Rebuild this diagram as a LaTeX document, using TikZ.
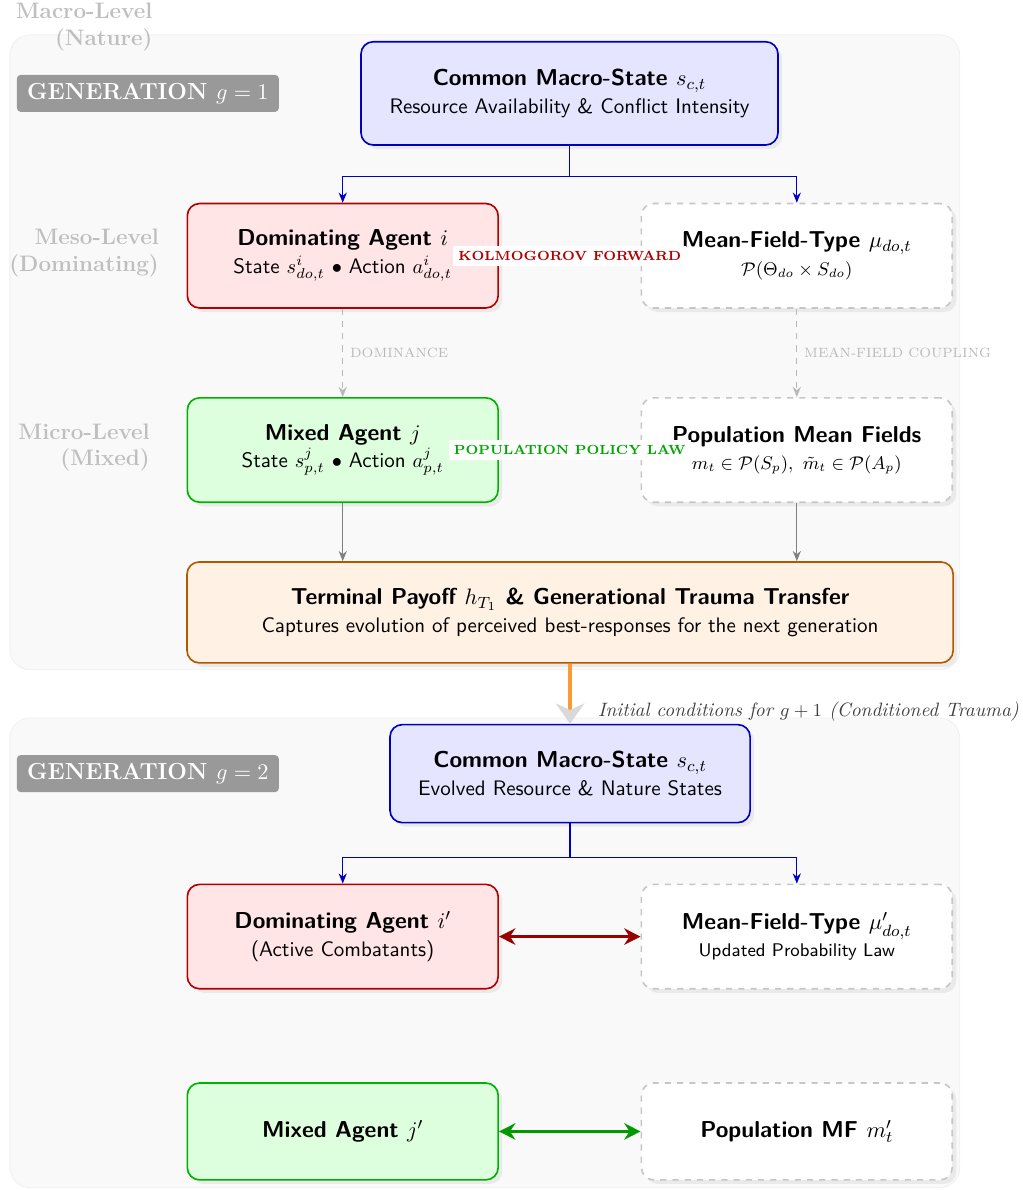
\documentclass[tikz,border=0pt]{standalone}
\usepackage{amssymb}
\usepackage{mathtools}
\usepackage{tikz}
\usetikzlibrary{arrows.meta,shadows}

\newcommand{\boxtitle}[1]{{\fontsize{11.3}{13.6}\selectfont\bfseries #1}}

\tikzset{
	box/.style={rectangle, rounded corners=6pt, line width=0.8pt, align=center,
		minimum width=5.36cm, minimum height=1.8cm, font=\sffamily\fontsize{10.3}{12.4}\selectfont,
		drop shadow={opacity=0.12, shadow xshift=2pt, shadow yshift=-2pt}},
	macrobox/.style={box, draw=blue!75!black, fill=blue!10},
	dombox/.style={box, draw=red!70!black, fill=red!10},
	mixbox/.style={box, draw=green!70!black, fill=green!13},
	mfbox/.style={box, draw=gray!45, dashed, fill=white},
	payoffbox/.style={box, draw=orange!70!black, fill=orange!10},
	genpanel/.style={draw=gray!12, fill=gray!5, rounded corners=10pt},
	genbadge/.style={fill=gray!80, rounded corners=2pt, text=white, font=\fontsize{11.4}{13}\selectfont\bfseries,
		minimum width=4.52cm, minimum height=0.64cm, inner sep=2pt},
	levellabel/.style={align=right, text=gray!50, font=\fontsize{11}{13}\selectfont\bfseries},
	branch/.style={draw=blue!75!black, line width=0.6pt, -{Stealth[length=5pt,width=4pt]}},
	coupling/.style={draw=gray!55, dashed, line width=0.6pt, -{Stealth[length=5pt,width=4pt]}},
	feed/.style={draw=gray, line width=0.6pt, -{Stealth[length=5pt,width=4pt]}},
	couplelbl/.style={font=\fontsize{6.6}{8}\selectfont, text=gray!55, right},
	lawlbl/.style={font=\fontsize{6.5}{8}\selectfont\bfseries, fill=white, inner sep=2.5pt},
	mutual/.style={line width=1.6pt, {Stealth[length=8pt,width=8pt]}-{Stealth[length=8pt,width=8pt]}}
}

\begin{document}
\begin{tikzpicture}
	\useasboundingbox (0,0) rectangle (17.64,-20.52);
	% Generation panels
	\draw[genpanel] (0.17,-0.60) rectangle (16.55,-11.55);
	\draw[genpanel] (0.17,-12.38) rectangle (16.55,-20.48);
	% Level labels
	\node[levellabel] (macrolvl) at (1.45,-0.47) {Macro-Level\\(Nature)};
	\node[levellabel] (mesolvl) at (1.45,-4.36) {Meso-Level\\(Dominating)};
	\node[levellabel] (microlvl) at (1.45,-7.72) {Micro-Level\\(Mixed)};
	% Generation 1
	\node[genbadge] (badgeA) at (2.55,-1.61) {GENERATION $g=1$};
	\node[macrobox, minimum width=7.19cm, minimum height=1.78cm] (macroA) at (9.82,-1.61)
		{\boxtitle{Common Macro-State $s_{c,t}$}\\[1pt] Resource Availability \& Conflict Intensity};
	\node[dombox] (domA) at (5.91,-4.41)
		{\boxtitle{Dominating Agent $i$}\\[1pt] State $s^{i}_{do,t}$ $\bullet$ Action $a^{i}_{do,t}$};
	\node[mfbox] (mftA) at (13.74,-4.41)
		{\boxtitle{Mean-Field-Type $\mu_{do,t}$}\\[1pt] \small $\mathcal{P}(\Theta_{do}\times S_{do})$};
	\node[mixbox] (mixA) at (5.91,-7.76)
		{\boxtitle{Mixed Agent $j$}\\[1pt] State $s^{j}_{p,t}$ $\bullet$ Action $a^{j}_{p,t}$};
	\node[mfbox] (popA) at (13.74,-7.76)
		{\boxtitle{Population Mean Fields}\\[1pt] \small $m_t\in\mathcal{P}(S_p),\ \tilde{m}_t\in\mathcal{P}(A_p)$};
	\node[payoffbox, minimum width=13.21cm, minimum height=1.74cm] (payoff) at (9.83,-10.56)
		{\boxtitle{Terminal Payoff $h_{T_1}$ \& Generational Trauma Transfer}\\[1pt] Captures evolution of perceived best-responses for the next generation};
	% Connections in generation 1
	\coordinate (splitA) at (9.82,-3.05);
	\draw[branch] (macroA.south) -- (splitA) -| (domA.north);
	\draw[branch] (splitA) -| (mftA.north);
	\draw[coupling] (domA.south) -- node[couplelbl] {DOMINANCE} (mixA.north);
	\draw[coupling] (mftA.south) -- node[couplelbl] {MEAN-FIELD COUPLING} (popA.north);
	\draw[feed] (mixA.south) -- (mixA.south |- payoff.north);
	\draw[feed] (popA.south) -- (popA.south |- payoff.north);
	\path (domA.east) -- node[lawlbl, text=red!70!black] {KOLMOGOROV FORWARD} (mftA.west);
	\path (mixA.east) -- node[lawlbl, text=green!65!black] {POPULATION POLICY LAW} (popA.west);
	% Generation 2
	\node[genbadge] (badgeB) at (2.55,-13.34) {GENERATION $g=2$};
	\node[macrobox, minimum width=6.21cm, minimum height=1.69cm] (macroB) at (9.83,-13.34)
		{\boxtitle{Common Macro-State $s_{c,t}$}\\[1pt] Evolved Resource \& Nature States};
	\node[dombox] (domB) at (5.91,-16.15)
		{\boxtitle{Dominating Agent $i'$}\\[1pt] (Active Combatants)};
	\node[mfbox] (mftB) at (13.74,-16.15)
		{\boxtitle{Mean-Field-Type $\mu'_{do,t}$}\\[1pt] \small Updated Probability Law};
	\node[mixbox, minimum height=1.67cm] (mixB) at (5.91,-19.51)
		{\boxtitle{Mixed Agent $j'$}};
	\node[mfbox, minimum height=1.67cm] (popB) at (13.74,-19.51)
		{\boxtitle{Population MF $m'_t$}};
	% Transfer between generations
	\draw[orange!80, line width=2pt, -{Stealth[length=10pt,width=14pt,color=gray!30]}] (payoff.south) --
		node[pos=0.8, right=0.33cm, font=\fontsize{9.5}{11}\selectfont\itshape, text=black!75] {Initial conditions for $g+1$ (Conditioned Trauma)} (macroB.north);
	% Connections in generation 2
	\coordinate (splitB) at (9.83,-14.78);
	\draw[branch] (macroB.south) -- (splitB) -| (domB.north);
	\draw[branch] (splitB) -| (mftB.north);
	\draw[mutual, red!60!black] (domB.east) -- (mftB.west);
	\draw[mutual, green!60!black] (mixB.east) -- (popB.west);
\end{tikzpicture}
\end{document}
